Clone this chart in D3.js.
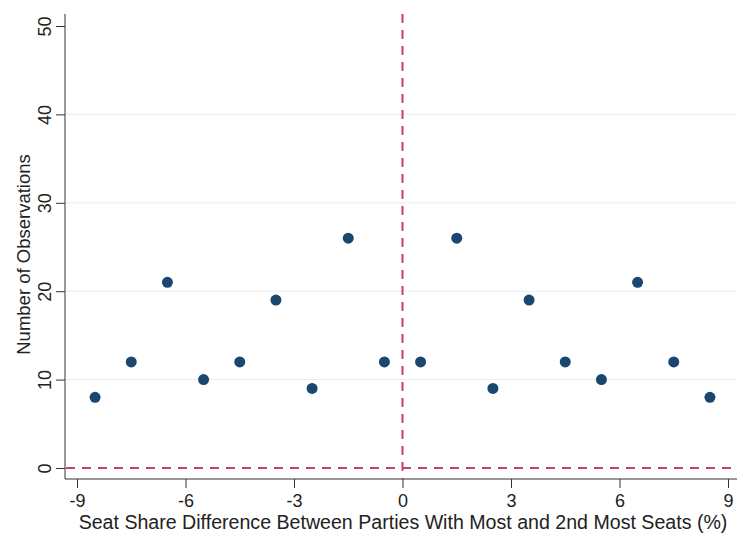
<!DOCTYPE html>
<html>
<head>
<meta charset="utf-8">
<script src="https://cdn.jsdelivr.net/npm/d3@7"></script>
<style>
  html, body { margin: 0; padding: 0; background: #fff; }
  svg { display: block; font-family: "Liberation Sans", Arial, sans-serif; }
</style>
</head>
<body>
<svg id="chart" width="737" height="540"></svg>
<script>
// Bin midpoints of the seat-share difference (%) and counts per bin
const binCenters = [-8.5, -7.5, -6.5, -5.5, -4.5, -3.5, -2.5, -1.5, -0.5,
                    0.5, 1.5, 2.5, 3.5, 4.5, 5.5, 6.5, 7.5, 8.5];
const counts = [8, 12, 21, 10, 12, 19, 9, 26, 12,
                12, 26, 9, 19, 12, 10, 21, 12, 8];
const xTicks = [-9, -6, -3, 0, 3, 6, 9];
const yTicks = [0, 10, 20, 30, 40, 50];
const xTitle = "Seat Share Difference Between Parties With Most and 2nd Most Seats (%)";
const yTitle = "Number of Observations";

const svg = d3.select("#chart");
const plotLeft = 65, plotRight = 737, plotTop = 14, plotBottom = 479;

const x = d3.scaleLinear().domain([-9, 9]).range([77, 728]);
const y = d3.scaleLinear().domain([0, 50]).range([468, 26]);
const plainFmt = d => String(d); // hyphen-minus, as in the axis labels

// horizontal gridlines
svg.append("g").selectAll("line")
  .data(yTicks.filter(d => d > 0 && d < 50))
  .join("line")
  .attr("x1", plotLeft + 1).attr("x2", plotRight)
  .attr("y1", d => y(d)).attr("y2", d => y(d))
  .attr("stroke", "#ececec").attr("stroke-width", 1);

// y axis
const yAxis = svg.append("g")
  .attr("transform", `translate(${plotLeft},0)`)
  .call(d3.axisLeft(y).tickValues(yTicks).tickFormat(plainFmt).tickSize(9).tickPadding(5));
yAxis.select(".domain").attr("d", `M0,${plotTop}V${plotBottom}`).attr("stroke", "#333");
yAxis.selectAll(".tick line").attr("stroke", "#333");
yAxis.selectAll(".tick text")
  .attr("font-size", 18).attr("fill", "#222")
  .attr("text-anchor", "middle")
  .attr("x", 0).attr("y", 0).attr("dy", 0)
  .attr("transform", "translate(-14,0) rotate(-90)");

// x axis
const xAxis = svg.append("g")
  .attr("transform", `translate(0,${plotBottom})`)
  .call(d3.axisBottom(x).tickValues(xTicks).tickFormat(plainFmt).tickSize(9).tickPadding(4));
xAxis.select(".domain").attr("d", `M${plotLeft},0H${plotRight}`).attr("stroke", "#333");
xAxis.selectAll(".tick line").attr("stroke", "#333");
xAxis.selectAll(".tick text").attr("font-size", 18).attr("fill", "#222")
  .attr("dy", "0.85em");

// axis titles
svg.append("text")
  .attr("x", 403).attr("y", 529)
  .attr("text-anchor", "middle")
  .attr("font-size", 19.6).attr("fill", "#222")
  .text(xTitle);
svg.append("text")
  .attr("transform", `translate(30,${(plotTop + plotBottom) / 2 + 8}) rotate(-90)`)
  .attr("text-anchor", "middle")
  .attr("font-size", 18.5).attr("fill", "#222")
  .text(yTitle);

// reference lines at zero
const refColor = "#cc3d66";
svg.append("line")
  .attr("x1", plotLeft + 1).attr("x2", plotRight)
  .attr("y1", y(0)).attr("y2", y(0))
  .attr("stroke", refColor).attr("stroke-width", 2)
  .attr("stroke-dasharray", "9,7");
svg.append("line")
  .attr("x1", x(0)).attr("x2", x(0))
  .attr("y1", plotTop).attr("y2", plotBottom)
  .attr("stroke", refColor).attr("stroke-width", 2)
  .attr("stroke-dasharray", "9,7");

// points
svg.append("g").selectAll("circle")
  .data(binCenters.map((b, i) => ({ b, c: counts[i] })))
  .join("circle")
  .attr("cx", d => x(d.b))
  .attr("cy", d => y(d.c))
  .attr("r", 5.5)
  .attr("fill", "#1a476f");
</script>
</body>
</html>
